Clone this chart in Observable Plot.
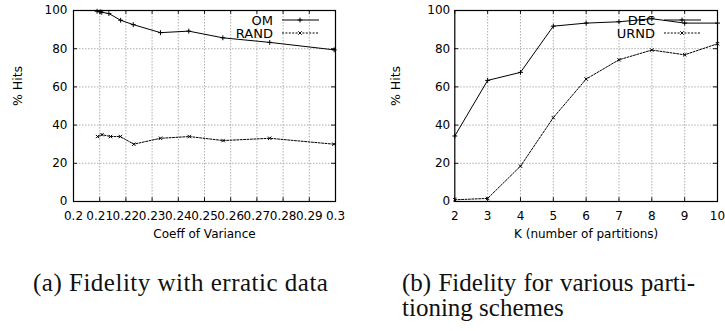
<!DOCTYPE html>
<html>
<head>
<meta charset="utf-8">
<script src="https://cdn.jsdelivr.net/npm/d3@7"></script>
<script src="https://cdn.jsdelivr.net/npm/@observablehq/plot@0.6"></script>
<style>
  html, body { margin: 0; padding: 0; background: #fff; }
  #page { position: relative; width: 725px; height: 331px; overflow: hidden; background: #fff; }
  .panel { position: absolute; top: 0; }
  .cap { position: absolute; font-family: "Liberation Serif", "Times New Roman", serif; font-size: 25px; line-height: 25px; color: #111; white-space: nowrap; }
  .just { text-align: justify; text-align-last: justify; white-space: normal; }
</style>
</head>
<body>
<div id="page">
  <div id="pa" class="panel" style="left:0px"></div>
  <div id="pb" class="panel" style="left:362px"></div>
  <div class="cap" style="left:33px; top:270px; letter-spacing:0.5px;">(a) Fidelity with erratic data</div>
  <div class="cap" style="left:402px; top:270px;">
    <div class="just" style="width:293px;">(b) Fidelity for various parti-</div>
    <div>tioning schemes</div>
  </div>
</div>
<script>
// ---------- data: panel (a) ----------
const omCoeff   = [0.209, 0.2102, 0.2108, 0.2135, 0.218, 0.2228, 0.2332, 0.244, 0.257, 0.2749, 0.2995];
const omHits    = [99.6, 99.3, 99.1, 98.4, 94.9, 92.6, 88.4, 89.2, 85.7, 83.3, 79.4];
const randCoeff = [0.2092, 0.2109, 0.2141, 0.2179, 0.223, 0.2332, 0.2442, 0.2571, 0.2749, 0.2994];
const randHits  = [34, 35, 34, 34, 30, 33.1, 34, 31.9, 33.1, 30];
const xTicksA   = [0.2, 0.21, 0.22, 0.23, 0.24, 0.25, 0.26, 0.27, 0.28, 0.29, 0.3];
const xLabelsA  = ["0.2", "0.21", "0.22", "0.23", "0.24", "0.25", "0.26", "0.27", "0.28", "0.29", "0.3"];

// ---------- data: panel (b) ----------
const kParts   = [2, 3, 4, 5, 6, 7, 8, 9, 10];
const decHits  = [34.3, 63.4, 67.6, 91.8, 93.4, 94.1, 95.7, 93.4, 93.4];
const urndHits = [0.9, 1.6, 18.5, 43.9, 64.1, 74.2, 79.3, 76.8, 82.6];
const xTicksB  = [2, 3, 4, 5, 6, 7, 8, 9, 10];

const yTicks = [0, 20, 40, 60, 80, 100];

// ---------- styles ----------
const FONT = "DejaVu Sans";
const gridStyle = {stroke: "#9a9a9a", strokeWidth: 0.8, strokeDasharray: "1.5,1.5"};
const dashStyle = "2,1.4";
const markR = 1.7;
const tickLenY = 2;       // inner tick length, in y data units
const tickLenXa = 0.0015; // inner tick length, x units, panel a
const tickLenXb = 0.12;   // panel b

function table(xs, ys) { return xs.map((x, i) => ({x, y: ys[i]})); }

function makePanel(opts) {
  const {xDomain, xTicks, xFormat, series, marginLeft, marginRight, xLabel, yLabelDx, tickLenX, yPad} = opts;
  const innerX = xTicks.slice(1, -1);
  const innerY = yTicks.slice(1, -1);
  const marks = [
    Plot.ruleX(innerX, {...gridStyle}),
    Plot.ruleY(innerY, {...gridStyle}),
    Plot.ruleX(xTicks, {y1: 0, y2: tickLenY, stroke: "black", strokeWidth: 0.9}),
    Plot.ruleX(xTicks, {y1: 100 - tickLenY, y2: 100, stroke: "black", strokeWidth: 0.9}),
    Plot.ruleY(yTicks, {x1: xDomain[0], x2: xDomain[0] + tickLenX, stroke: "black", strokeWidth: 0.9}),
    Plot.ruleY(yTicks, {x1: xDomain[1] - tickLenX, x2: xDomain[1], stroke: "black", strokeWidth: 0.9}),
    Plot.axisX({ticks: xTicks, tickSize: 0, tickPadding: 10, tickFormat: xFormat, label: null, fontSize: 12}),
    Plot.axisY({ticks: yTicks, tickSize: 0, tickPadding: yPad, label: null, fontSize: 12}),
    Plot.text([xLabel], {frameAnchor: "bottom", dy: 36, fontSize: 12}),
    Plot.text(["% Hits"], {frameAnchor: "left", dx: yLabelDx, rotate: -90, fontSize: 12.5})
  ];
  for (const s of series) {
    const data = table(s.xs, s.ys);
    marks.push(Plot.line(data, {x: "x", y: "y", stroke: "black", strokeWidth: 1, strokeDasharray: s.dashed ? dashStyle : null}));
    marks.push(Plot.dot(data, {x: "x", y: "y", symbol: s.symbol, r: markR, stroke: "black", strokeWidth: 1}));
  }
  marks.push(Plot.frame({stroke: "black", strokeWidth: 1.2}));

  const svg = Plot.plot({
    width: opts.width, height: 250,
    marginLeft, marginRight, marginTop: 10, marginBottom: 49,
    x: {domain: xDomain, label: null},
    y: {domain: [0, 100], label: null},
    style: {fontFamily: FONT, fontSize: "12px", color: "black", background: "white", overflow: "visible"},
    marks
  });

  // legend (top-right, inside the frame)
  const xr = svg.scale("x").range;
  const yr = svg.scale("y").range;
  const fr = Math.max(...xr);
  const ft = Math.min(...yr);
  const g = d3.select(svg).append("g").attr("font-family", FONT).attr("font-size", 13);
  series.forEach((s, i) => {
    const cy = ft + 10 + i * 13;
    g.append("text").attr("x", fr - 62).attr("y", cy).attr("dy", "0.36em")
      .attr("text-anchor", "end").attr("fill", "black").text(s.name);
    g.append("line").attr("x1", fr - 53).attr("x2", fr - 16).attr("y1", cy).attr("y2", cy)
      .attr("stroke", "black").attr("stroke-width", 1)
      .attr("stroke-dasharray", s.dashed ? dashStyle : null);
    const sym = s.symbol === "plus" ? d3.symbolPlus : d3.symbolTimes;
    g.append("path").attr("d", d3.symbol(sym, Math.PI * markR * markR)())
      .attr("transform", `translate(${fr - 35},${cy})`)
      .attr("fill", "none").attr("stroke", "black").attr("stroke-width", 1);
  });
  return svg;
}

const panelA = makePanel({
  width: 362, xDomain: [0.2, 0.3], xTicks: xTicksA,
  xFormat: d => xLabelsA[xTicksA.indexOf(d)],
  marginLeft: 73, marginRight: 27, xLabel: "Coeff of Variance", yLabelDx: -55.5, tickLenX: tickLenXa, yPad: 6,
  series: [
    {name: "OM", xs: omCoeff, ys: omHits, symbol: "plus", dashed: false},
    {name: "RAND", xs: randCoeff, ys: randHits, symbol: "times", dashed: true}
  ]
});
document.getElementById("pa").appendChild(panelA);

const panelB = makePanel({
  width: 363, xDomain: [2, 10], xTicks: xTicksB,
  xFormat: d => String(d),
  marginLeft: 92.3, marginRight: 8, xLabel: "K (number of partitions)", yLabelDx: -59.3, tickLenX: tickLenXb, yPad: 4.6,
  series: [
    {name: "DEC", xs: kParts, ys: decHits, symbol: "plus", dashed: false},
    {name: "URND", xs: kParts, ys: urndHits, symbol: "times", dashed: true}
  ]
});
document.getElementById("pb").appendChild(panelB);
</script>
</body>
</html>
